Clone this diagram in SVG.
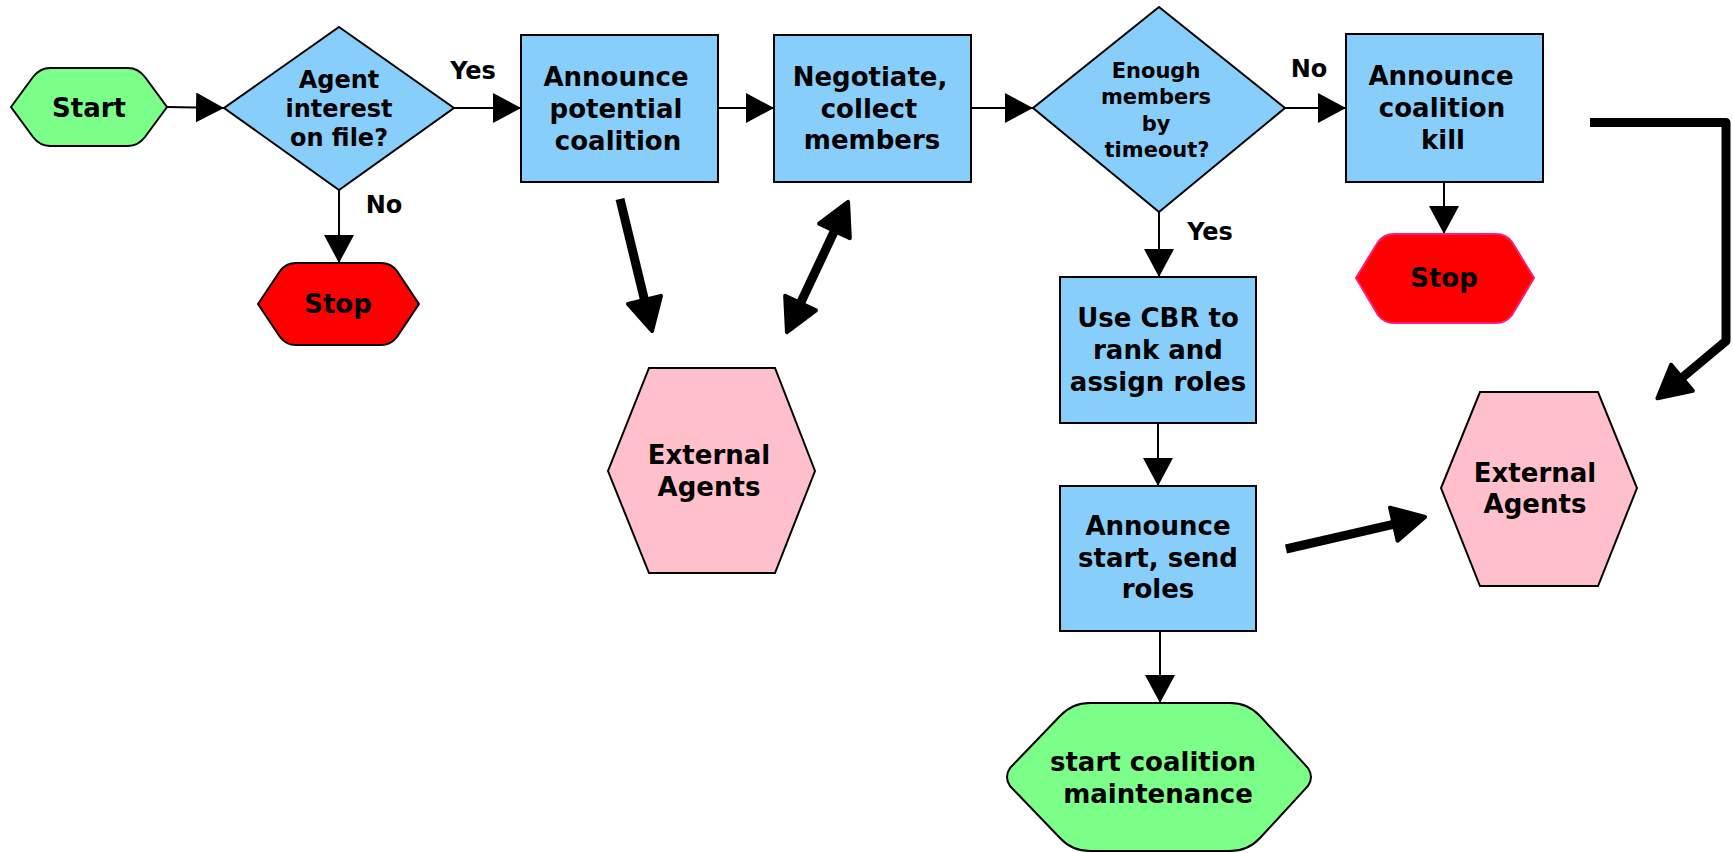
<svg xmlns="http://www.w3.org/2000/svg" width="1733" height="853" viewBox="0 0 1733 853">
<defs>
<style>
.t{font-family:"DejaVu Sans","Liberation Sans",sans-serif;font-weight:bold;fill:#000;text-anchor:middle}
.f26{font-size:26px}
.f24{font-size:24px}
.f21{font-size:21px}
.box{fill:#87cefa;stroke:#000;stroke-width:2}
.term{fill:#7cff88;stroke:#000;stroke-width:2}
.stop{fill:#ff0000;stroke:#000;stroke-width:2}
.ext{fill:#ffc0cb;stroke:#000;stroke-width:2}
.thin{fill:none;stroke:#000;stroke-width:2;marker-end:url(#ah)}
.thick{fill:none;stroke:#000;stroke-width:9;stroke-linejoin:round}
</style>
<marker id="ah" markerUnits="userSpaceOnUse" markerWidth="28" markerHeight="30" viewBox="0 0 28 30" refX="28" refY="15" orient="auto">
<path d="M0,0 L28,15 L0,30 Z" fill="#000"/>
</marker>
<marker id="big" markerUnits="userSpaceOnUse" markerWidth="42" markerHeight="44" viewBox="0 0 42 44" refX="10" refY="22" orient="auto-start-reverse">
<path d="M4,5 L36,22 L4,39 Z" fill="#000" stroke="#000" stroke-width="4" stroke-linejoin="round"/>
</marker>
</defs>
<rect width="1733" height="853" fill="#fff"/>

<g id="connectors">
<line class="thin" x1="167" y1="107" x2="224" y2="108"/>
<line class="thin" x1="454" y1="108" x2="521" y2="108"/>
<line class="thin" x1="339" y1="190" x2="339" y2="263"/>
<line class="thin" x1="718" y1="108" x2="774" y2="108"/>
<line class="thin" x1="971" y1="108" x2="1033" y2="108"/>
<line class="thin" x1="1285" y1="108" x2="1346" y2="108"/>
<line class="thin" x1="1444" y1="182" x2="1444" y2="234"/>
<line class="thin" x1="1159" y1="212" x2="1159" y2="277"/>
<line class="thin" x1="1158" y1="423" x2="1158" y2="486"/>
<line class="thin" x1="1160" y1="631" x2="1160" y2="703"/>
<path class="thick" d="M620,199 L645.9,305.7" marker-end="url(#big)"/>
<path class="thick" d="M798,308.5 L837,225.5" marker-start="url(#big)" marker-end="url(#big)"/>
<path class="thick" d="M1286,549 L1399.7,522.8" marker-end="url(#big)"/>
<path class="thick" d="M1590,122.5 L1726,122.5 L1726,341 L1677.4,381.6" marker-end="url(#big)"/>
<text class="t f24" x="473" y="79">Yes</text>
<text class="t f24" x="384" y="213">No</text>
<text class="t f24" x="1309" y="77">No</text>
<text class="t f24" x="1210" y="240">Yes</text>
</g>

<g id="start">
<path class="term" d="M11,107 L33,77 Q40,68 50,68 L128,68 Q138,68 145,77 L167,107 L145,137 Q138,146 128,146 L50,146 Q40,146 33,137 Z"/>
<text class="t f26" x="89" y="117">Start</text>
</g>

<g id="decision1">
<polygon class="box" points="339,27 454,108 339,190 224,108"/>
<text class="t f24" x="339" y="88">Agent</text>
<text class="t f24" x="339" y="117">interest</text>
<text class="t f24" x="339" y="146">on file?</text>
</g>

<g id="stop1">
<path class="stop" d="M258,304 L280,271 Q286,263 296,263 L381,263 Q391,263 397,271 L419,304 L397,337 Q391,345 381,345 L296,345 Q286,345 280,337 Z"/>
<text class="t f26" x="338" y="313">Stop</text>
</g>

<g id="announce-potential">
<rect class="box" x="521" y="35" width="197" height="147"/>
<text class="t f26" x="616" y="86">Announce</text>
<text class="t f26" x="616" y="118">potential</text>
<text class="t f26" x="618" y="150">coalition</text>
</g>

<g id="negotiate">
<rect class="box" x="774" y="35" width="197" height="147"/>
<text class="t f26" x="870" y="86">Negotiate,</text>
<text class="t f26" x="869" y="118">collect</text>
<text class="t f26" x="872" y="149">members</text>
</g>

<g id="external1">
<polygon class="ext" points="649,368 775,368 815,471 775,573 649,573 608,471"/>
<text class="t f26" x="709" y="464">External</text>
<text class="t f26" x="709" y="496">Agents</text>
</g>

<g id="decision2">
<polygon class="box" points="1159,7 1285,108 1159,212 1033,108"/>
<text class="t f21" x="1156" y="78">Enough</text>
<text class="t f21" x="1156" y="104">members</text>
<text class="t f21" x="1156" y="131">by</text>
<text class="t f21" x="1157" y="157">timeout?</text>
</g>

<g id="announce-kill">
<rect class="box" x="1346" y="34" width="197" height="148"/>
<text class="t f26" x="1441" y="85">Announce</text>
<text class="t f26" x="1442" y="117">coalition</text>
<text class="t f26" x="1443" y="149">kill</text>
</g>

<g id="stop2">
<path d="M1356,278 L1378,242 Q1384,234 1394,234 L1496,234 Q1506,234 1512,242 L1534,278 L1512,315 Q1506,323 1496,323 L1394,323 Q1384,323 1378,315 Z" fill="#ff0000" stroke="#ff1a7a" stroke-width="2"/>
<text class="t f26" x="1444" y="287">Stop</text>
</g>

<g id="cbr">
<rect class="box" x="1060" y="277" width="196" height="146"/>
<text class="t f26" x="1158" y="327">Use CBR to</text>
<text class="t f26" x="1158" y="359">rank and</text>
<text class="t f26" x="1158" y="391">assign roles</text>
</g>

<g id="announce-start">
<rect class="box" x="1060" y="486" width="196" height="145"/>
<text class="t f26" x="1158" y="535">Announce</text>
<text class="t f26" x="1158" y="567">start, send</text>
<text class="t f26" x="1158" y="598">roles</text>
</g>

<g id="external2">
<polygon class="ext" points="1480,392 1598,392 1637,488 1598,586 1480,586 1441,488"/>
<text class="t f26" x="1535" y="482">External</text>
<text class="t f26" x="1535" y="513">Agents</text>
</g>

<g id="maintenance">
<path class="term" d="M1010,768 L1060,716 Q1072,703 1090,703 L1230,703 Q1248,703 1260,716 L1308,768 Q1314,777 1308,786 L1260,838 Q1248,851 1230,851 L1090,851 Q1072,851 1060,838 L1010,786 Q1004,777 1010,768 Z"/>
<text class="t f26" x="1153" y="771">start coalition</text>
<text class="t f26" x="1158" y="803">maintenance</text>
</g>
</svg>
